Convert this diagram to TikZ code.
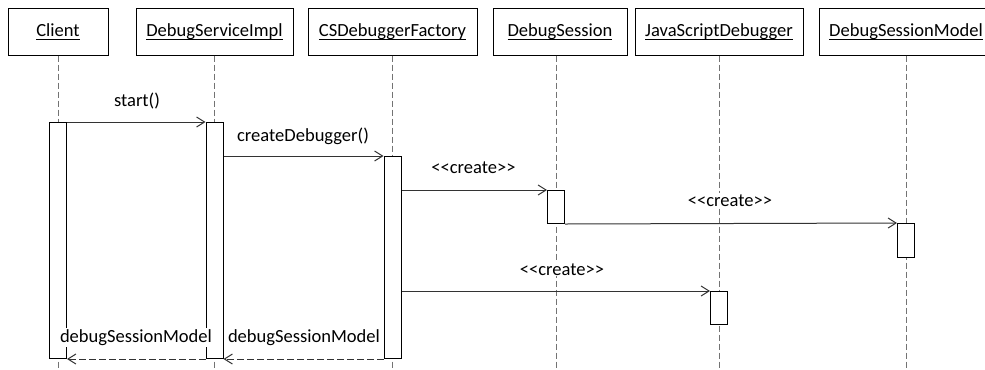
\documentclass[tikz,border=0pt]{standalone}
\usepackage{fontspec}
\setmainfont{Carlito}
\usetikzlibrary{arrows.meta}
% underline sitting just below the baseline, crossing descenders
\newcommand\lineunder[1]{\setbox0\hbox{#1}\rlap{\rule[-2.2pt]{\wd0}{0.7pt}}\box0}
% guillemet-free stereotype brackets
\newcommand\stereo[1]{<\kern0pt<#1>\kern0pt>}
\begin{document}
\begin{tikzpicture}[x=0.75pt,y=-0.75pt,
  font=\fontsize{13.9}{16}\selectfont, line width=0.75pt,
  lifebox/.style={draw, fill=white, inner sep=0, minimum height=35.25pt,
    text height=11.3pt, text depth=3.5pt},
  lifeline/.style={draw=black!55, dash pattern=on 4.5pt off 2.25pt},
  actbar/.style={draw, fill=white, inner sep=0, minimum width=12.75pt, anchor=north},
  msg/.style={draw=black!80, -{Straight Barb[length=6pt,width=7.5pt]}},
  ret/.style={msg, dash pattern=on 5pt off 2.5pt},
  lbl/.style={fill=white, inner sep=1pt, anchor=base}]
\useasboundingbox (0,0) rectangle (985,369);
\coordinate (bottom) at (0,372);

% participants
\node[lifebox, minimum width=75pt]     (client) at (58,31.5)    {\lineunder{Client}};
\node[lifebox, minimum width=117.75pt] (dsi)    at (214.5,31.5) {\lineunder{DebugServiceImpl}};
\node[lifebox, minimum width=126.75pt] (csdf)   at (392.5,31.5) {\lineunder{CSDebuggerFactory}};
\node[lifebox, minimum width=100.5pt]  (ds)     at (560,31.5)   {\lineunder{DebugSession}};
\node[lifebox, minimum width=126pt]    (jsd)    at (719,31.5)   {\lineunder{JavaScriptDebugger}};
\node[lifebox, minimum width=130.5pt]  (dsm)    at (906,31.5)   {\lineunder{DebugSessionModel}};

% lifelines
\draw[lifeline] (client.south) -- (client.south |- bottom);
\draw[lifeline] (dsi.south) -- (dsi.south |- bottom);
\draw[lifeline] (csdf.south) -- (csdf.south |- bottom);
\draw[lifeline] ([xshift=-3pt]ds.south) -- ([xshift=-3pt]ds.south |- bottom);
\draw[lifeline] (jsd.south) -- (jsd.south |- bottom);
\draw[lifeline] (dsm.south) -- (dsm.south |- bottom);

% activation bars
\node[actbar, minimum height=177pt]   (clientact) at (58,122)    {};
\node[actbar, minimum height=177pt]   (dsiact)    at (214.5,122) {};
\node[actbar, minimum height=151.5pt] (csdfact)   at (392.5,156) {};
\node[actbar, minimum height=24.75pt] (dsact)     at (556,190)   {};
\node[actbar, minimum height=25.5pt]  (dsmact)    at (906,223)   {};
\node[actbar, minimum height=24.75pt] (jsdact)    at (719,291)   {};

% messages
\draw[msg] (clientact.north east) -- (dsiact.north west);
\draw[msg] (dsiact.east |- csdfact.north) -- (csdfact.north west);
\draw[msg] (csdfact.east |- dsact.north) -- (dsact.north west);
\draw[msg] (dsact.south east) -- (dsmact.north west);
\draw[msg] (csdfact.east |- jsdact.north) -- (jsdact.north west);
\draw[ret] (csdfact.south west) -- (dsiact.south east);
\draw[ret] (dsiact.south west) -- (clientact.south east);

% message labels
\node[lbl] (l1) at (137,106)   {start()};
\node[lbl] (l2) at (303,141)   {createDebugger()};
\node[lbl] (l3) at (473.5,173) {\stereo{create}};
\node[lbl] (l4) at (730,206)   {\stereo{create}};
\node[lbl] (l5) at (562,275)   {\stereo{create}};
\node[lbl] (l6) at (136,342.5) {debugSessionModel};
\node[lbl] (l7) at (304,342.5) {debugSessionModel};
\end{tikzpicture}
\end{document}
